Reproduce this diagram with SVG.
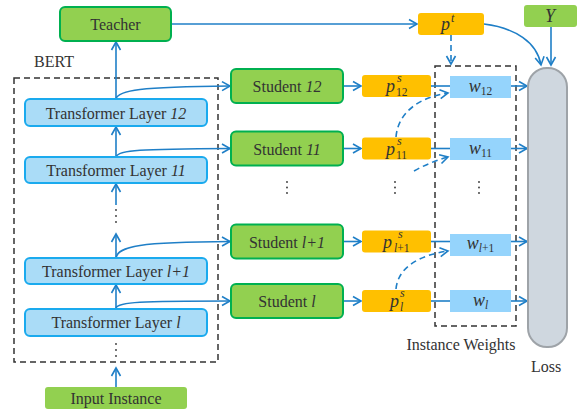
<svg xmlns="http://www.w3.org/2000/svg" width="578" height="409" viewBox="0 0 578 409" font-family="'Liberation Serif', 'DejaVu Serif', 'Times New Roman', serif">
<defs>
<marker id="ah" markerUnits="userSpaceOnUse" markerWidth="12" markerHeight="12" viewBox="0 0 12 12" refX="10" refY="6" orient="auto">
<path d="M2,1.5 L10,6 L2,10.5" fill="none" stroke="#1f7fc7" stroke-width="1.6"/>
</marker>
</defs>
<style>
text{font-family:'Liberation Serif','DejaVu Serif','Times New Roman',serif;fill:#333;}
.lbl{font-size:16px;text-anchor:middle;}
.it{font-style:italic;}
.green{fill:#92d050;stroke:#00b050;stroke-width:2;}
.layer{fill:#aadcf7;stroke:#1aaaee;stroke-width:2;}
.orange{fill:#ffc000;}
.wbox{fill:#95d4fc;}
.dashbox{fill:none;stroke:#333;stroke-width:1.5;stroke-dasharray:6 4;}
.c{fill:none;stroke:#1f7fc7;stroke-width:1.6;}
.a{marker-end:url(#ah);}
.d{stroke-dasharray:6 4;}
.math{font-size:18px;font-style:italic;}
.sup{font-size:12px;font-style:italic;}
.sub{font-size:11.5px;font-style:normal;}
.subi{font-size:11.5px;font-style:italic;}
.dot{fill:#333;}
</style>

<rect id="bert-box" class="dashbox" x="14" y="78" width="204" height="284"/>
<text class="lbl" x="54" y="67">BERT</text>
<rect id="iw-box" class="dashbox" x="435" y="66" width="81" height="260"/>
<text class="lbl" x="461" y="350">Instance Weights</text>

<g id="connectors">
<path class="c a" d="M116,99 L116,42"/>
<path class="c a" d="M116,157 L116,127"/>
<path class="c a" d="M116,205 L116,184"/>
<path class="c a" d="M116,258 L116,234"/>
<path class="c a" d="M116,308 L116,285"/>
<path class="c a" d="M116,387 L116,368"/>
<path class="c a" d="M116,99 C118,90 140,87 230,86"/>
<path class="c a" d="M116,157 C118,150 140,149 230,148.5"/>
<path class="c a" d="M116,258 C118,246 140,242 230,241.5"/>
<path class="c a" d="M116,308 C118,302 140,301 230,301"/>
<path class="c a" d="M171,24 L417,24"/>
<path class="c a" d="M484,24 C515,28 537,42 541,65"/>
<path class="c a" d="M551,27 L551,65"/>
<path class="c a d" d="M451,35 L451,64"/>
<path class="c a" d="M343,86 L361,86"/>
<path class="c a" d="M343,148.5 L361,148.5"/>
<path class="c a" d="M343,241.5 L361,241.5"/>
<path class="c a" d="M343,301 L361,301"/>
<path class="c" d="M431,86 L450,86"/>
<path class="c" d="M431,148.5 L450,148.5"/>
<path class="c" d="M431,241.5 L450,241.5"/>
<path class="c" d="M431,301 L450,301"/>
<path class="c a" d="M511,86 L527,86"/>
<path class="c a" d="M511,148.5 L527,148.5"/>
<path class="c a" d="M511,241.5 L527,241.5"/>
<path class="c a" d="M511,301 L527,301"/>
<path class="c a d" d="M396,137 C398,112 420,97 448,93"/>
<path class="c a d" d="M414,171 Q430,162 448,157"/>
<path class="c a d" d="M396,289 C398,267 420,255 448,251"/>
</g>

<g id="teacher">
<rect class="green" x="60" y="7" width="111" height="34" rx="5"/>
<text class="lbl" x="115.5" y="30">Teacher</text>
</g>

<g id="layer12">
<rect class="layer" x="25" y="99" width="182" height="27" rx="5"/>
<text class="lbl" x="116" y="118.5">Transformer Layer <tspan class="it">12</tspan></text>
</g>
<g id="layer11">
<rect class="layer" x="25" y="157" width="182" height="26" rx="5"/>
<text class="lbl" x="116" y="176">Transformer Layer <tspan class="it">11</tspan></text>
</g>
<g id="layerl1">
<rect class="layer" x="25" y="258" width="182" height="26" rx="5"/>
<text class="lbl" x="116" y="277">Transformer Layer <tspan class="it">l+1</tspan></text>
</g>
<g id="layerl">
<rect class="layer" x="25" y="309" width="182" height="27" rx="5"/>
<text class="lbl" x="116" y="328">Transformer Layer <tspan class="it">l</tspan></text>
</g>
<g id="bert-dots">
<circle class="dot" cx="116" cy="210" r="0.9"/><circle class="dot" cx="116" cy="216" r="0.9"/><circle class="dot" cx="116" cy="222" r="0.9"/>
<circle class="dot" cx="116" cy="344" r="0.9"/><circle class="dot" cx="116" cy="350" r="0.9"/><circle class="dot" cx="116" cy="356" r="0.9"/>
</g>

<g id="input">
<rect x="45" y="387" width="142" height="22" rx="3" fill="#92d050"/>
<text class="lbl" x="116" y="404">Input Instance</text>
</g>

<g id="student12">
<rect class="green" x="231" y="69" width="112" height="34" rx="5"/>
<text class="lbl" x="287" y="92">Student <tspan class="it">12</tspan></text>
</g>
<g id="student11">
<rect class="green" x="231" y="131.5" width="112" height="34" rx="5"/>
<text class="lbl" x="287" y="154.5">Student <tspan class="it">11</tspan></text>
</g>
<g id="studentl1">
<rect class="green" x="231" y="224.5" width="112" height="34" rx="5"/>
<text class="lbl" x="287" y="247.5">Student <tspan class="it">l+1</tspan></text>
</g>
<g id="studentl">
<rect class="green" x="231" y="284" width="112" height="34" rx="5"/>
<text class="lbl" x="287" y="307">Student <tspan class="it">l</tspan></text>
</g>

<g id="pt">
<rect class="orange" x="418" y="13" width="66" height="22" rx="3"/>
<text class="math" x="441" y="30">p<tspan class="sup" x="451" y="22">t</tspan></text>
</g>
<g id="y">
<rect x="524" y="5" width="53" height="22" rx="3" fill="#92d050"/>
<text class="math" x="550" y="22" text-anchor="middle">Y</text>
</g>

<g id="ps12">
<rect class="orange" x="362" y="75" width="69" height="22" rx="3"/>
<text class="math" x="386" y="92">p<tspan class="sup" x="397" y="82">s</tspan><tspan class="sub" x="396" y="96">12</tspan></text>
</g>
<g id="ps11">
<rect class="orange" x="362" y="137.5" width="69" height="22" rx="3"/>
<text class="math" x="386" y="154.5">p<tspan class="sup" x="397" y="144.5">s</tspan><tspan class="sub" x="396" y="158.5">11</tspan></text>
</g>
<g id="psl1">
<rect class="orange" x="362" y="230.5" width="69" height="22" rx="3"/>
<text class="math" x="383" y="247.5">p<tspan class="sup" x="398" y="237.5">s</tspan><tspan class="subi" x="394" y="251.5">l</tspan><tspan class="sub">+1</tspan></text>
</g>
<g id="psl">
<rect class="orange" x="362" y="290" width="69" height="22" rx="3"/>
<text class="math" x="390" y="307">p<tspan class="sup" x="400" y="297">s</tspan><tspan class="subi" x="400" y="311">l</tspan></text>
</g>

<g id="w12">
<rect class="wbox" x="450" y="76" width="61" height="22"/>
<text class="math" x="480.5" y="92" text-anchor="middle">w<tspan class="sub" dy="3">12</tspan></text>
</g>
<g id="w11">
<rect class="wbox" x="450" y="138" width="61" height="22"/>
<text class="math" x="480.5" y="154" text-anchor="middle">w<tspan class="sub" dy="3">11</tspan></text>
</g>
<g id="wl1">
<rect class="wbox" x="450" y="234" width="61" height="22"/>
<text class="math" x="480.5" y="249" text-anchor="middle">w<tspan class="subi" dy="3">l</tspan><tspan class="sub">+1</tspan></text>
</g>
<g id="wl">
<rect class="wbox" x="450" y="290" width="61" height="22"/>
<text class="math" x="480.5" y="306" text-anchor="middle">w<tspan class="subi" dy="3">l</tspan></text>
</g>

<g id="col-dots">
<circle class="dot" cx="287" cy="182" r="0.9"/><circle class="dot" cx="287" cy="187.5" r="0.9"/><circle class="dot" cx="287" cy="193" r="0.9"/>
<circle class="dot" cx="395" cy="182" r="0.9"/><circle class="dot" cx="395" cy="187.5" r="0.9"/><circle class="dot" cx="395" cy="193" r="0.9"/>
<circle class="dot" cx="479" cy="182" r="0.9"/><circle class="dot" cx="479" cy="187.5" r="0.9"/><circle class="dot" cx="479" cy="193" r="0.9"/>
</g>

<g id="loss">
<rect x="528" y="68" width="39" height="279" rx="19" fill="#cfd7df" stroke="#9ea3a8" stroke-width="2"/>
<text class="lbl" x="546" y="372">Loss</text>
</g>
</svg>
